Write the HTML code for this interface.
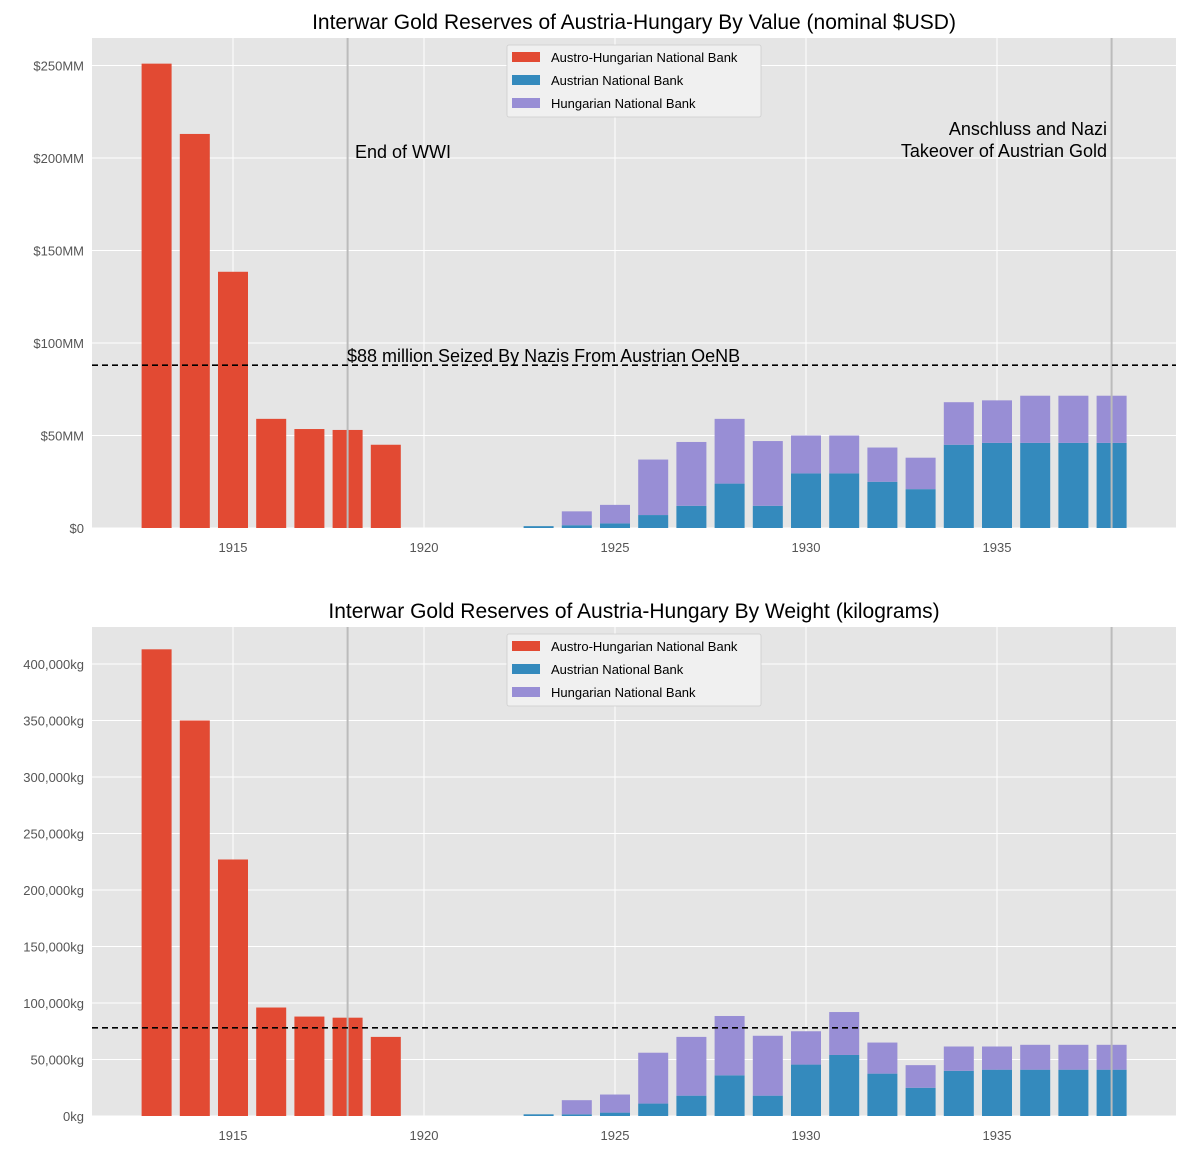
<!DOCTYPE html>
<html><head><meta charset="utf-8"><style>
html,body{margin:0;padding:0;background:#fff;}
svg{display:block;font-family:"Liberation Sans",sans-serif;}
</style></head><body>
<svg id="c" width="1185" height="1152"></svg>
<script>
const years=[1913,1914,1915,1916,1917,1918,1919,1923,1924,1925,1926,1927,1928,1929,1930,1931,1932,1933,1934,1935,1936,1937,1938];
const ahValue=[251,213,138.5,59,53.5,53,45,0,0,0,0,0,0,0,0,0,0,0,0,0,0,0,0];
const atValue=[0,0,0,0,0,0,0,1,1.5,2.5,7,12,24,12,29.5,29.5,25,21,45,46,46,46,46];
const huValue=[0,0,0,0,0,0,0,0,7.5,10,30,34.5,35,35,20.5,20.5,18.5,17,23,23,25.5,25.5,25.5];
const ahWeight=[413,350,227,96,88,87,70,0,0,0,0,0,0,0,0,0,0,0,0,0,0,0,0];
const atWeight=[0,0,0,0,0,0,0,1.5,1.5,3,11,18,36,18,45.5,54,37.5,25,40,41,41,41,41];
const huWeight=[0,0,0,0,0,0,0,0,12.5,16,45,52,52.5,53,29.5,38,27.5,20,21.5,20.5,22,22,22];
const valueTicks=[0,50,100,150,200,250];
const valueTickLabels=["$0","$50MM","$100MM","$150MM","$200MM","$250MM"];
const weightTicks=[0,50,100,150,200,250,300,350,400];
const weightTickLabels=["0kg","50,000kg","100,000kg","150,000kg","200,000kg","250,000kg","300,000kg","350,000kg","400,000kg"];
const xTicks=[1915,1920,1925,1930,1935];
const seizedValue=88, seizedWeight=78;

const NS="http://www.w3.org/2000/svg";
const svg=document.getElementById('c');
function mk(tag,attrs,parent,text){const e=document.createElementNS(NS,tag);for(const k in attrs)e.setAttribute(k,attrs[k]);if(text!==undefined)e.textContent=text;(parent||svg).appendChild(e);return e;}
const X=y=>233+(y-1915)*38.2;

function panel(cfg){
  const g=mk('g',{});
  
  
  const Y=v=>cfg.y0-v*cfg.k;
  const bg=mk('rect',{x:92,y:cfg.top,width:1084,height:cfg.y0-cfg.top,fill:'#E5E5E5'},g);
  
  cfg.ticks.forEach((t,i)=>{
    const l=mk('line',{x1:92,x2:1176,y1:Y(t),y2:Y(t),stroke:'#fff','stroke-width':1},g);
    
    const tx=mk('text',{x:84,y:Y(t)+5,'text-anchor':'end','font-size':13,fill:'#555'},g,cfg.labels[i]);
    
  });
  xTicks.forEach(t=>{
    const l=mk('line',{x1:X(t),x2:X(t),y1:cfg.top,y2:cfg.y0,stroke:'#fff','stroke-width':1},g);
    
    const tx=mk('text',{x:X(t),y:cfg.y0+24,'text-anchor':'middle','font-size':13,fill:'#555'},g,String(t));
    
  });
  const w=30;
  years.forEach((yr,i)=>{
    const x=X(yr)-w/2;
    if(cfg.ah[i]>0){const r=mk('rect',{x:x,y:Y(cfg.ah[i]),width:w,height:cfg.ah[i]*cfg.k,fill:'#E24A33'},g);}
    if(cfg.at[i]>0){const r=mk('rect',{x:x,y:Y(cfg.at[i]),width:w,height:cfg.at[i]*cfg.k,fill:'#348ABD'},g);}
    if(cfg.hu[i]>0){const r=mk('rect',{x:x,y:Y(cfg.at[i]+cfg.hu[i]),width:w,height:cfg.hu[i]*cfg.k,fill:'#988ED5'},g);}
  });
  [1918,1938].forEach(yr=>{const l=mk('line',{x1:X(yr),x2:X(yr),y1:cfg.top,y2:cfg.y0,stroke:'#bbb','stroke-width':2},g);});
  const d=mk('line',{x1:92,x2:1176,y1:Y(cfg.seized),y2:Y(cfg.seized),stroke:'#000','stroke-width':1.6,'stroke-dasharray':'6,4'},g);
  
  const t=mk('text',{x:634,y:cfg.top-9,'text-anchor':'middle','font-size':21,fill:'#000'},g,cfg.title);
  
  // legend
  const lg=mk('g',{},g);
  mk('rect',{x:507,y:cfg.top+7,width:254,height:72,fill:'#F0F0F0',stroke:'#ccc','stroke-width':0.8,rx:2},lg);
  [['Austro-Hungarian National Bank','#E24A33'],['Austrian National Bank','#348ABD'],['Hungarian National Bank','#988ED5']].forEach((e,i)=>{
    const eg=mk('g',{},lg);
    mk('rect',{x:512,y:cfg.top+14+i*23,width:28,height:10,fill:e[1]},eg);
    mk('text',{x:551,y:cfg.top+24+i*23,'font-size':13,fill:'#000'},eg,e[0]);
  });
  return {g,Y};
}
const p1=panel({name:'value-chart',top:38,y0:528,k:1.85,ticks:valueTicks,labels:valueTickLabels,ah:ahValue,at:atValue,hu:huValue,seized:seizedValue,title:'Interwar Gold Reserves of Austria-Hungary By Value (nominal $USD)'});
const a1=mk('text',{x:355,y:158,'font-size':18,fill:'#000'},p1.g,'End of WWI');
const a2=mk('text',{x:1107,y:135,'font-size':18,fill:'#000','text-anchor':'end'},p1.g,'Anschluss and Nazi');
const a3=mk('text',{x:1107,y:157,'font-size':18,fill:'#000','text-anchor':'end'},p1.g,'Takeover of Austrian Gold');
const a4=mk('text',{x:347,y:362,'font-size':18,fill:'#000'},p1.g,'$88 million Seized By Nazis From Austrian OeNB');
panel({name:'weight-chart',top:627,y0:1116,k:1.13,ticks:weightTicks,labels:weightTickLabels,ah:ahWeight,at:atWeight,hu:huWeight,seized:seizedWeight,title:'Interwar Gold Reserves of Austria-Hungary By Weight (kilograms)'});
</script>
</body></html>
